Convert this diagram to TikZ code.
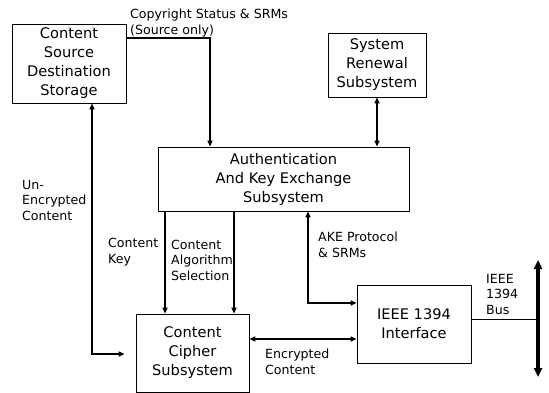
\documentclass[tikz,border=0pt]{standalone}
\usepackage{fontspec}
\setmainfont{DejaVu Sans}
\usetikzlibrary{arrows.meta,positioning,calc}

\begin{document}
\begin{tikzpicture}[
    x=1pt, y=-1pt,
    block/.style={rectangle, draw=black, line width=0.8pt, align=center, inner sep=0pt, font=\fontsize{14.6}{19}\selectfont},
    lbl/.style={anchor=west, align=left, inner sep=0pt, font=\fontsize{12.6}{15.5}\selectfont},
    arr/.style={-{Triangle[length=6pt,width=5pt]}, line width=1.6pt},
    biarr/.style={{Triangle[length=6pt,width=5pt]}-{Triangle[length=6pt,width=5pt]}, line width=1.6pt},
    busarr/.style={{Triangle[length=9pt,width=8pt]}-{Triangle[length=9pt,width=8pt]}, line width=3.2pt}
]
    \useasboundingbox (0,0) rectangle (549,393);

    % Blocks
    \node (csds) [block, minimum width=114pt, minimum height=79pt] at (69,63.5) {Content\\Source\\Destination\\Storage};
    \node (srs) [block, minimum width=98pt, minimum height=64pt] at (377,65) {System\\Renewal\\Subsystem};
    \node (ake) [block, minimum width=251pt, minimum height=64pt] at (283.5,179) {Authentication\\And Key Exchange\\Subsystem};
    \node (ccs) [block, minimum width=113pt, minimum height=78pt] at (192.5,353) {Content\\Cipher\\Subsystem};
    \node (iface) [block, minimum width=114pt, minimum height=78pt] at (414,324) {IEEE 1394\\Interface};

    % Helper coordinates
    \coordinate (cpy) at (210,38);
    \coordinate (uc) at (92,354);
    \coordinate (ck) at (165,0);
    \coordinate (ca) at (234,0);
    \coordinate (ak) at (308,303);
    \coordinate (ec) at (0,339);
    \coordinate (bl) at (0,319);
    \coordinate (bustop) at (538,260);
    \coordinate (busbot) at (538,377);

    % Connectors
    \draw [arr] (csds.east |- cpy) -| (ake.north -| cpy);
    \draw [biarr] (srs.south) -- (ake.north -| srs.south);
    \draw [biarr, shorten >=11pt] (csds.south -| uc) |- (ccs.west |- uc);
    \draw [arr] (ake.south -| ck) -- (ccs.north -| ck);
    \draw [arr] (ake.south -| ca) -- (ccs.north -| ca);
    \draw [biarr] (ake.south -| ak) |- (iface.west |- ak);
    \draw [biarr] (ccs.east |- ec) -- (iface.west |- ec);
    \draw [line width=0.8pt] (iface.east |- bl) -- (bustop |- bl);
    \draw [busarr] (bustop) -- (busbot);

    % Labels
    \node (lcpy) [lbl] at (130,23) {Copyright Status \& SRMs\\(Source only)};
    \node (luc) [lbl] at (22,200) {Un-\\Encrypted\\Content};
    \node (lck) [lbl] at (108,252) {Content\\Key};
    \node (lca) [lbl] at (171,260) {Content\\Algorithm\\Selection};
    \node (lak) [lbl] at (318,245) {AKE Protocol\\\& SRMs};
    \node (lec) [lbl] at (265,362) {Encrypted\\Content};
    \node (lbus) [lbl] at (486,294) {IEEE\\1394\\Bus};
\end{tikzpicture}
\end{document}
